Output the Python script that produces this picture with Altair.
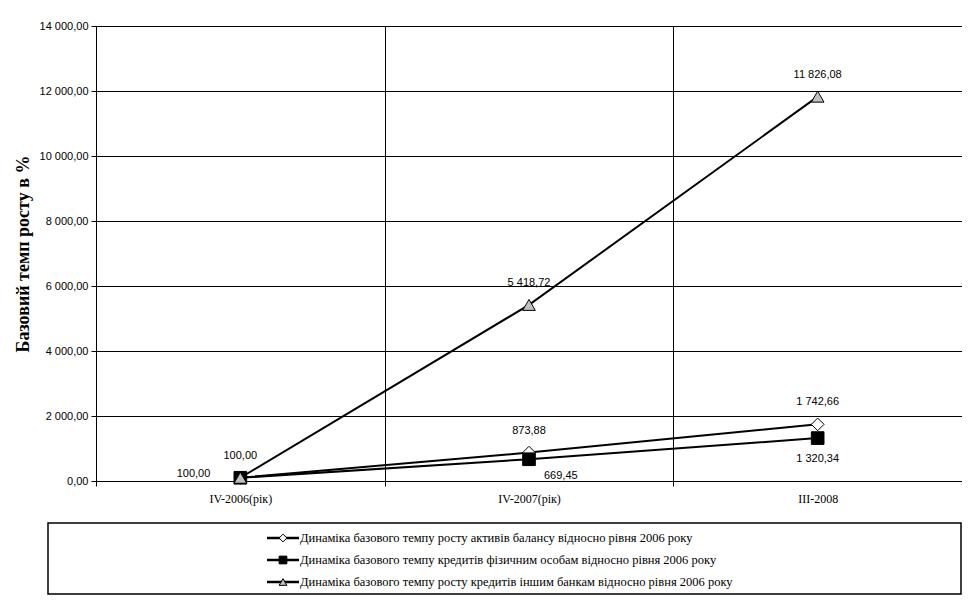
import altair as alt
import pandas as pd

categories = ["IV-2006(рік)", "IV-2007(рік)", "III-2008"]
series_names = [
    "Динаміка базового темпу росту активів балансу відносно рівня 2006 року",
    "Динаміка базового темпу кредитів фізичним особам відносно рівня 2006 року",
    "Динаміка базового темпу росту кредитів іншим банкам відносно рівня 2006 року",
]
values_assets = [100.00, 873.88, 1742.66]
values_individuals = [100.00, 669.45, 1320.34]
values_banks = [100.00, 5418.72, 11826.08]
y_ticks = [0, 2000, 4000, 6000, 8000, 10000, 12000, 14000]
y_title = "Базовий темп росту в %"

shapes = ["diamond", "square", "triangle-up"]
fills = ["white", "black", "#c0c0c0"]

rows = []
for s, vals in zip(series_names, [values_assets, values_individuals, values_banks]):
    for c, v in zip(categories, vals):
        rows.append({"series": s, "cat": c, "value": v})
df = pd.DataFrame(rows)

legend_df = pd.DataFrame({"series": series_names, "row": list(range(len(series_names)))})

xenc = alt.X(
    "cat:N",
    sort=categories,
    bandPosition=0.5,
    scale=alt.Scale(type="band", paddingInner=0, paddingOuter=0, domain=categories),
    axis=alt.Axis(
        title=None, tickBand="extent", grid=True, gridColor="black", gridWidth=1,
        labelFont="Liberation Serif", labelFontSize=12, labelColor="black",
        labelAngle=0, labelPadding=7, tickSize=5, tickColor="black",
        domainColor="black",
    ),
)
yenc = alt.Y(
    "value:Q",
    scale=alt.Scale(domain=[0, 14000], nice=False),
    axis=alt.Axis(
        values=y_ticks, format=",.2f", title=y_title,
        titleFont="Liberation Serif", titleFontSize=18, titleFontWeight="bold",
        titleColor="black", titlePadding=7,
        labelFont="Liberation Sans", labelFontSize=11, labelColor="black",
        labelPadding=3, tickSize=5, tickColor="black", domainColor="black",
        grid=True, gridColor="black", gridWidth=1,
    ),
)
shape_enc = alt.Shape("series:N", scale=alt.Scale(domain=series_names, range=shapes), legend=None)
fill_enc = alt.Fill("series:N", scale=alt.Scale(domain=series_names, range=fills), legend=None)

base = alt.Chart(df)

lines = base.mark_line(color="black", strokeWidth=2).encode(x=xenc, y=yenc, detail="series:N")
points = base.mark_point(filled=True, stroke="black", strokeWidth=1, opacity=1, size=160).encode(
    x=xenc, y=yenc, shape=shape_enc, fill=fill_enc
)

txt = dict(font="Liberation Sans", fontSize=11, color="black", baseline="middle")
fmt = alt.Text("value:Q", format=",.2f")

above = base.transform_filter(
    (alt.datum.series == series_names[0])
    | ((alt.datum.series == series_names[2]) & (alt.datum.cat != categories[0]))
).mark_text(dy=-22, align="center", **txt).encode(x=xenc, y=yenc, text=fmt)

b_first = base.transform_filter(
    (alt.datum.series == series_names[1]) & (alt.datum.cat == categories[0])
).mark_text(dx=-30, dy=-4, align="right", **txt).encode(x=xenc, y=yenc, text=fmt)

b_second = base.transform_filter(
    (alt.datum.series == series_names[1]) & (alt.datum.cat == categories[1])
).mark_text(dx=15, dy=17, align="left", **txt).encode(x=xenc, y=yenc, text=fmt)

b_third = base.transform_filter(
    (alt.datum.series == series_names[1]) & (alt.datum.cat == categories[2])
).mark_text(dy=21, align="center", **txt).encode(x=xenc, y=yenc, text=fmt)

main = alt.layer(lines, points, above, b_first, b_second, b_third)

# legend (decoration)
ly = alt.Y("row:Q", scale=alt.Scale(domain=[0, 2], range=[512, 556]), axis=None)
lbase = alt.Chart(legend_df)
box = alt.Chart(pd.DataFrame({"k": [0]})).mark_rect(fill="white", stroke="black", strokeWidth=1.5).encode(
    x=alt.value(-48), x2=alt.value(865), y=alt.value(497), y2=alt.value(568)
)
lrule = lbase.mark_rule(color="black", strokeWidth=2.5).encode(
    x=alt.value(171), x2=alt.value(203), y=ly
)
lpts = lbase.mark_point(filled=True, stroke="black", strokeWidth=1, opacity=1, size=60).encode(
    x=alt.value(187), y=ly, shape=shape_enc, fill=fill_enc
)
ltext = lbase.mark_text(align="left", baseline="middle", font="Liberation Serif", fontSize=12.5, color="black").encode(
    x=alt.value(204), y=ly, text="series:N"
)
legend = alt.layer(box, lrule, lpts, ltext)

chart = (
    alt.layer(main, legend)
    .resolve_scale(y="independent", x="independent")
    .properties(
        width=866, height=455,
        autosize=alt.AutoSizeParams(type="none"),
        padding={"left": 88, "top": 18, "right": 0, "bottom": 115},
    )
    .configure(locale={"number": {"decimal": ",", "thousands": " ", "grouping": [3], "currency": ["", ""]}})
    .configure_view(stroke=None)
)

chart.save("out.html", embed_options={"renderer": "svg", "actions": False})
